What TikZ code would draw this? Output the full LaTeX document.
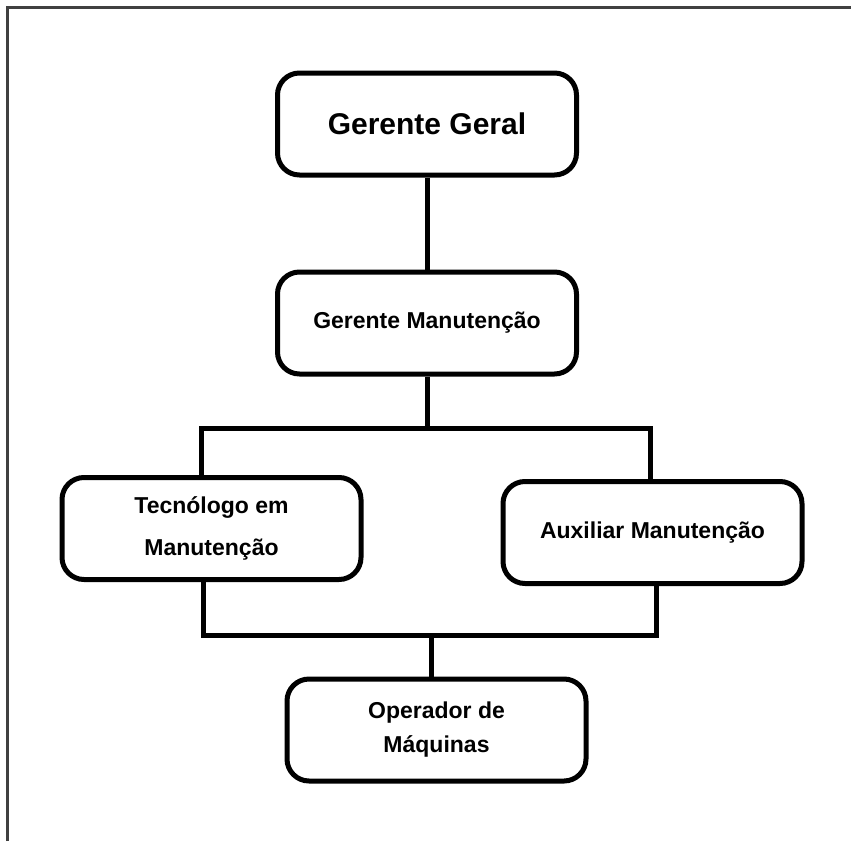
\documentclass[tikz,border=0pt]{standalone}
\usepackage{fontspec}
\setmainfont{Liberation Sans}
\usetikzlibrary{positioning}

\begin{document}
\begin{tikzpicture}[x=1pt, y=-1pt,
    cargo/.style={rectangle, rounded corners=22pt, draw=black, line width=5pt,
                  minimum width=299pt, minimum height=102pt, align=center,
                  font=\fontsize{23}{42}\selectfont\bfseries},
    chefe/.style={cargo, font=\fontsize{30}{36}\selectfont\bfseries},
    ligacao/.style={line width=5pt},
    moldura/.style={draw=black!75, line width=2.5pt}
]

% Page area and frame
\useasboundingbox (0,0) rectangle (851,841);
\draw[moldura] (7.5,841) -- (7.5,7.5) -- (851,7.5);

% Top of the chart
\node[chefe] (geral) at (427,124) {Gerente Geral};
\node[cargo, below=92pt of geral] (gman) {Gerente Manutenção};

% Second level
\node[cargo] (tecno) at (211.5,528.5) {Tecnólogo em\\Manutenção};
\node[cargo] (aux) at (652.5,532.5) {Auxiliar Manutenção};

% Bottom
\node[cargo, font=\fontsize{23}{34}\selectfont\bfseries] (oper) at (436.5,730)
    {Operador de\\Máquinas};

% Bus points
\coordinate (bus1) at (427,428);
\coordinate (bus2) at (431,635);

% Connectors
\draw[ligacao] (geral) -- (gman);
\draw[ligacao] (gman.south) -- (bus1);
\draw[ligacao] ([xshift=-10pt]tecno.north) |- (bus1) -| ([xshift=-2pt]aux.north);
\draw[ligacao] ([xshift=-8pt]tecno.south) |- (bus2) -| ([xshift=4pt]aux.south);
\draw[ligacao] (bus2) -- (bus2 |- oper.north);

\end{tikzpicture}
\end{document}
